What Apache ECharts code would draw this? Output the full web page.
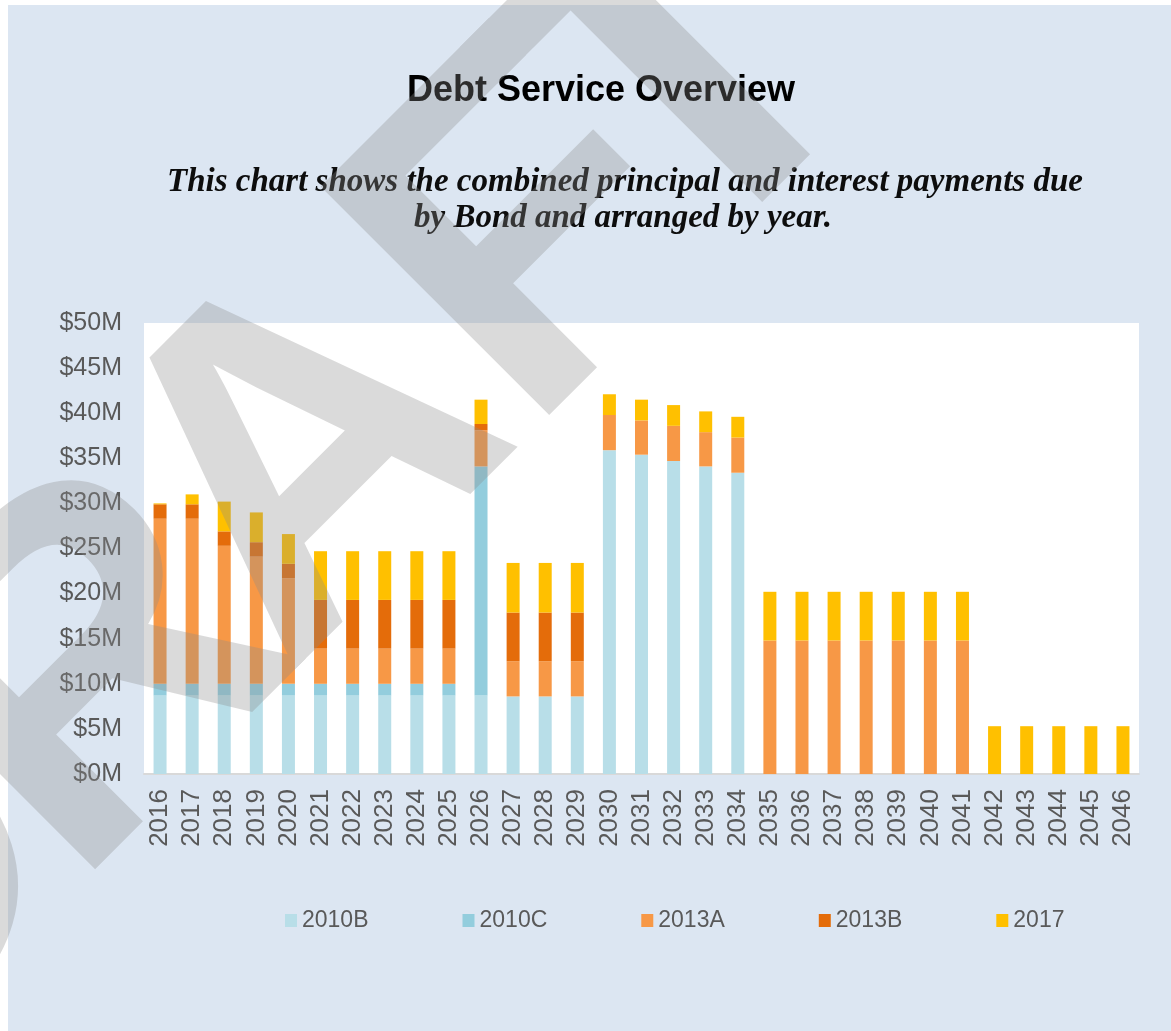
<!DOCTYPE html>
<html>
<head>
<meta charset="utf-8">
<title>Debt Service Overview</title>
<script src="https://cdn.jsdelivr.net/npm/echarts@6.0.0/dist/echarts.min.js"></script>
<style>
  html, body { margin: 0; padding: 0; background: #fff; }
  #main {
    width: 1171px; height: 1031px;
    background: linear-gradient(#dce6f2, #dce6f2) 8px 5px / 1163px 1026px no-repeat, #fff;
  }
</style>
</head>
<body>
<div id="main"></div>
<script>
// years on the x axis
var years = [];
for (var y = 2016; y <= 2046; y++) years.push(String(y));

// payments in $M
var s2010B = [8.7, 8.7, 8.7, 8.7, 8.7, 8.7, 8.7, 8.7, 8.7, 8.7, 8.7, 8.6, 8.6, 8.6,
  35.9, 35.4, 34.7, 34.1, 33.4, 0, 0, 0, 0, 0, 0, 0, 0, 0, 0, 0, 0];
var s2010C = [1.3, 1.3, 1.3, 1.3, 1.3, 1.3, 1.3, 1.3, 1.3, 1.3, 25.4, 0, 0, 0,
  0, 0, 0, 0, 0, 0, 0, 0, 0, 0, 0, 0, 0, 0, 0, 0, 0];
var s2013A = [18.3, 18.3, 15.3, 14.1, 11.7, 3.9, 3.9, 3.9, 3.9, 3.9, 4.0, 3.9, 3.9, 3.9,
  3.9, 3.8, 3.9, 3.8, 3.9, 14.8, 14.8, 14.8, 14.8, 14.8, 14.8, 14.8, 0, 0, 0, 0, 0];
var s2013B = [1.6, 1.6, 1.6, 1.6, 1.6, 5.4, 5.4, 5.4, 5.4, 5.4, 0.7, 5.4, 5.4, 5.4,
  0, 0, 0, 0, 0, 0, 0, 0, 0, 0, 0, 0, 0, 0, 0, 0, 0];
var s2017 = [0.1, 1.1, 3.3, 3.3, 3.3, 5.4, 5.4, 5.4, 5.4, 5.4, 2.7, 5.5, 5.5, 5.5,
  2.3, 2.3, 2.3, 2.3, 2.3, 5.4, 5.4, 5.4, 5.4, 5.4, 5.4, 5.4, 5.3, 5.3, 5.3, 5.3, 5.3];

var seriesNames = ['2010B', '2010C', '2013A', '2013B', '2017'];
var seriesData = [s2010B, s2010C, s2013A, s2013B, s2017];
var colors = ['#b8dee8', '#93cddd', '#f79846', '#e46c0a', '#ffc000'];

var chart = echarts.init(document.getElementById('main'), null, { renderer: 'canvas' });

var series = seriesNames.map(function (name, i) {
  return {
    name: name,
    type: 'bar',
    stack: 'total',
    barWidth: 13,
    data: seriesData[i],
    itemStyle: { color: colors[i] }
  };
});

// diagonal "DRAFT" watermark, one letter at a time so the spacing stays tight.
// drawn opaque on its own layer; the layer gets the transparency (no dark overlaps)
var wmLetters = ['D', 'R', 'A', 'F', 'T'];
var wmOffsets = [-560, -250, 52, 366, 589];
var watermark = wmLetters.map(function (ch, i) {
  var a = wmOffsets[i] * Math.SQRT1_2;
  return {
    type: 'text', x: 278 + a, y: 503 - a, rotation: Math.PI / 4,
    zlevel: 5, z: 100, silent: true,
    style: {
      text: ch, fill: '#8c8c8c',
      font: 'bold 470px "Liberation Sans", Arial, sans-serif',
      textAlign: 'center', textVerticalAlign: 'middle'
    }
  };
});

var option = {
  backgroundColor: 'transparent',
  animation: false,
  color: colors,
  textStyle: { fontFamily: 'Liberation Sans, Arial, sans-serif' },
  grid: {
    left: 144, right: 32, top: 323, bottom: 257,
    show: true, backgroundColor: '#ffffff', borderWidth: 0
  },
  legend: {
    left: 280, top: 904,
    itemWidth: 12, itemHeight: 13, itemGap: 94,
    icon: 'rect',
    textStyle: { color: '#595959', fontSize: 23 },
    data: seriesNames
  },
  xAxis: {
    type: 'category',
    data: years,
    axisLine: { lineStyle: { color: '#d9d9d9', width: 2 } },
    axisTick: { show: false },
    axisLabel: { rotate: 90, color: '#595959', fontSize: 26, margin: 15, interval: 0 }
  },
  yAxis: {
    type: 'value',
    min: 0, max: 50, interval: 5,
    splitLine: { show: false },
    axisLine: { show: false },
    axisTick: { show: false },
    axisLabel: {
      color: '#595959', fontSize: 25, margin: 22,
      formatter: function (v) { return '$' + v + 'M'; }
    }
  },
  graphic: [
    {
      type: 'text', x: 601, y: 91,
      style: {
        text: 'Debt Service Overview', fill: '#000',
        font: 'bold 36px "Liberation Sans", Arial, sans-serif',
        textAlign: 'center', textVerticalAlign: 'middle'
      }
    },
    {
      type: 'text', x: 625, y: 182,
      style: {
        text: 'This chart shows the combined principal and interest payments due',
        fill: '#0d0d0d',
        font: 'italic bold 33px "Liberation Serif", serif',
        textAlign: 'center', textVerticalAlign: 'middle'
      }
    },
    {
      type: 'text', x: 623, y: 218,
      style: {
        text: 'by Bond and arranged by year.',
        fill: '#0d0d0d',
        font: 'italic bold 33px "Liberation Serif", serif',
        textAlign: 'center', textVerticalAlign: 'middle'
      }
    }
  ].concat(watermark),
  series: series
};

chart.setOption(option);

try {
  var wmLayer = chart.getZr().painter.getLayer(5);
  if (wmLayer && wmLayer.dom) wmLayer.dom.style.opacity = '0.32';
} catch (e) {}
</script>
</body>
</html>
